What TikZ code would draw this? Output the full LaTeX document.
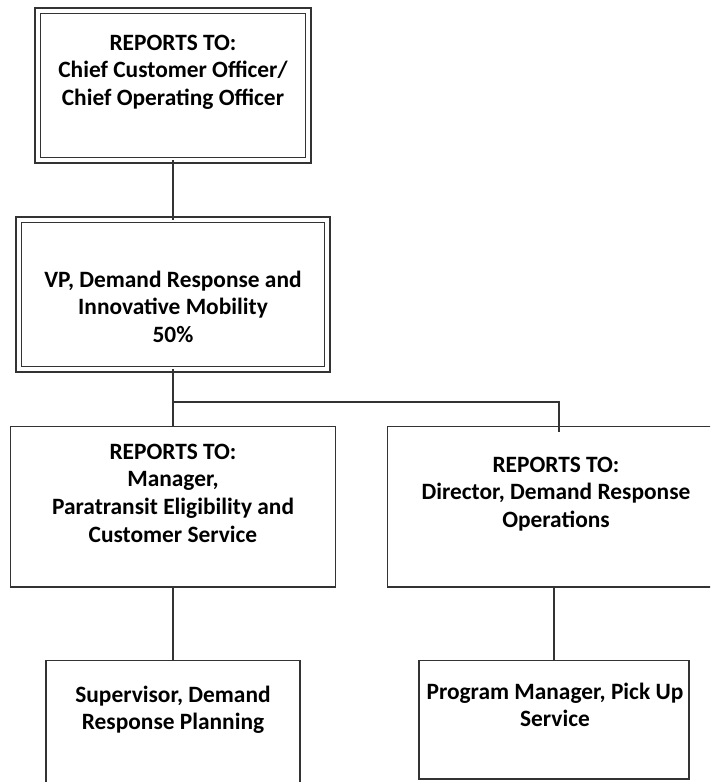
\documentclass[tikz,border=0pt]{standalone}
\usepackage{fontspec}
\setmainfont{Carlito}
\begin{document}
\begin{tikzpicture}[x=1pt,y=-1pt,
  every node/.style={inner sep=0pt, outer sep=0pt},
  box/.style={draw=black!80, line width=1.5pt, fill=white, rectangle},
  dbox/.style={box, double, double distance=4pt},
  lbl/.style={anchor=base, align=center, font=\fontsize{23.4}{27.7}\selectfont\bfseries, text=black},
  conn/.style={draw=black!80, line width=1.5pt}
]
\useasboundingbox (0,0) rectangle (710,782);
\begin{scope}
\clip (0,0) rectangle (710,782);
% boxes
\node[dbox, minimum width=270.5pt, minimum height=149.5pt] (top) at (173,85.5) {};
\node[dbox, minimum width=308.5pt, minimum height=149.5pt] (vp) at (173,294.5) {};
\node[box, minimum width=325pt, minimum height=160.5pt] (midL) at (173,506.75) {};
\node[box, minimum width=337pt, minimum height=160.5pt] (midR) at (556,506.75) {};
\node[box, minimum width=254pt, minimum height=150pt] (botL) at (173,735.5) {};
\node[box, minimum width=270pt, minimum height=118.5pt] (botR) at (554,719.75) {};
% connectors
\coordinate (j) at (173,402);
\coordinate (rb) at (559,432);
\draw[conn] (top.south) -- (vp.north);
\draw[conn] (vp.south) -- (midL.north);
\draw[conn] (j) -- (rb |- j) -- (rb);
\draw[conn] (midL.south) -- (botL.north);
\draw[conn] (midR.south -| botR.north) -- (botR.north);
% labels (anchor = baseline of last line)
\node[lbl] (tTop) at (173,105.4) {REPORTS TO:\\Chief Customer Officer/\\Chief Operating Officer};
\node[lbl] (tVP) at (173,342.4) {VP, Demand Response and\\Innovative Mobility\\50\%};
\node[lbl] (tMidL) at (173,542.1) {REPORTS TO:\\Manager,\\Paratransit Eligibility and\\Customer Service};
\node[lbl] (tMidR) at (556,527.4) {REPORTS TO:\\Director, Demand Response\\Operations};
\node[lbl] (tBotL) at (173,729.7) {Supervisor, Demand\\Response Planning};
\node[lbl] (tBotR) at (555,726.7) {Program Manager, Pick Up\\Service};
\end{scope}
\end{tikzpicture}
\end{document}
